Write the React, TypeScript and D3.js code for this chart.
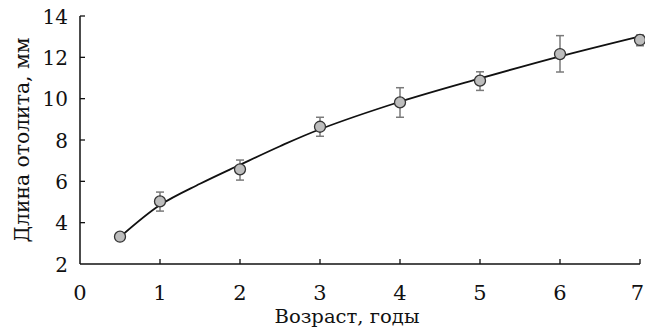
import React from "react";
import * as d3 from "d3";

const ages = [0.5, 1, 2, 3, 4, 5, 6, 7];
const means = [3.32, 5.03, 6.58, 8.64, 9.82, 10.87, 12.16, 12.84];
const lower = [3.32, 4.56, 6.06, 8.18, 9.1, 10.4, 11.29, 12.56];
const upper = [3.32, 5.48, 7.03, 9.1, 10.53, 11.3, 13.05, 13.08];

const curveX = [0.5, 1, 1.5, 2, 2.5, 3, 4, 5, 6, 7];
const curveY = [3.3, 4.85, 5.88, 6.8, 7.7, 8.52, 9.85, 10.98, 12.05, 13.02];

const xTicks = [0, 1, 2, 3, 4, 5, 6, 7];
const yTicks = [2, 4, 6, 8, 10, 12, 14];

const W = 645;
const H = 329;
const FONT = '"DejaVu Serif", serif';

export default function App() {
  const x = d3.scaleLinear().domain([0, 7]).range([80, 640]);
  const y = d3.scaleLinear().domain([2, 14]).range([264, 16]);
  const line = d3
    .line<number>()
    .x((_, i) => x(curveX[i]))
    .y((d) => y(d))
    .curve(d3.curveCatmullRom.alpha(0.5));
  return (
    <div style={{ position: "fixed", left: 0, top: 0 }}>
      <svg width={W} height={H} style={{ display: "block", background: "#fff" }}>
        <line x1={x(0)} x2={x(7)} y1={y(2)} y2={y(2)} stroke="#111" strokeWidth={1.5} />
        <line x1={x(0)} x2={x(0)} y1={y(2)} y2={y(14)} stroke="#111" strokeWidth={1.5} />
        {xTicks.map((t) => (
          <g key={"xt" + t}>
            {t > 0 && (
              <line x1={x(t)} x2={x(t)} y1={y(2)} y2={y(2) - 5} stroke="#111" strokeWidth={1.3} />
            )}
            <text
              x={Math.min(x(t), 637.5)}
              y={299.5}
              textAnchor="middle"
              fontFamily={FONT}
              fontSize={21}
              fill="#111"
            >
              {t}
            </text>
          </g>
        ))}
        {yTicks.map((t) => (
          <g key={"yt" + t}>
            {t > 2 && (
              <line x1={x(0)} x2={x(0) + 5} y1={y(t)} y2={y(t)} stroke="#111" strokeWidth={1.3} />
            )}
            <text
              x={68}
              y={y(t) + 7.5}
              textAnchor="end"
              fontFamily={FONT}
              fontSize={20}
              fill="#111"
            >
              {t}
            </text>
          </g>
        ))}
        <text
          x={347}
          y={323}
          textAnchor="middle"
          fontFamily={FONT}
          fontSize={19}
          textLength={145}
          lengthAdjust="spacingAndGlyphs"
          fill="#111"
        >
          Возраст, годы
        </text>
        <text
          transform={`translate(29,140) rotate(-90)`}
          textAnchor="middle"
          fontFamily={FONT}
          fontSize={21}
          textLength={205}
          lengthAdjust="spacingAndGlyphs"
          fill="#111"
        >
          Длина отолита, мм
        </text>
        {ages.map((a, i) =>
          upper[i] - lower[i] > 0.05 ? (
            <g key={"eb" + i} stroke="#7a7a7a" strokeWidth={1.5}>
              <line x1={x(a)} x2={x(a)} y1={y(lower[i])} y2={y(upper[i])} />
              <line x1={x(a) - 4} x2={x(a) + 4} y1={y(lower[i])} y2={y(lower[i])} />
              <line x1={x(a) - 4} x2={x(a) + 4} y1={y(upper[i])} y2={y(upper[i])} />
            </g>
          ) : null
        )}
        <path d={line(curveY) || ""} fill="none" stroke="#111" strokeWidth={1.8} />
        {ages.map((a, i) => (
          <circle
            key={"pt" + i}
            cx={x(a)}
            cy={y(means[i])}
            r={5.5}
            fill="#bdbdbd"
            stroke="#333"
            strokeWidth={1.3}
          />
        ))}
      </svg>
    </div>
  );
}
